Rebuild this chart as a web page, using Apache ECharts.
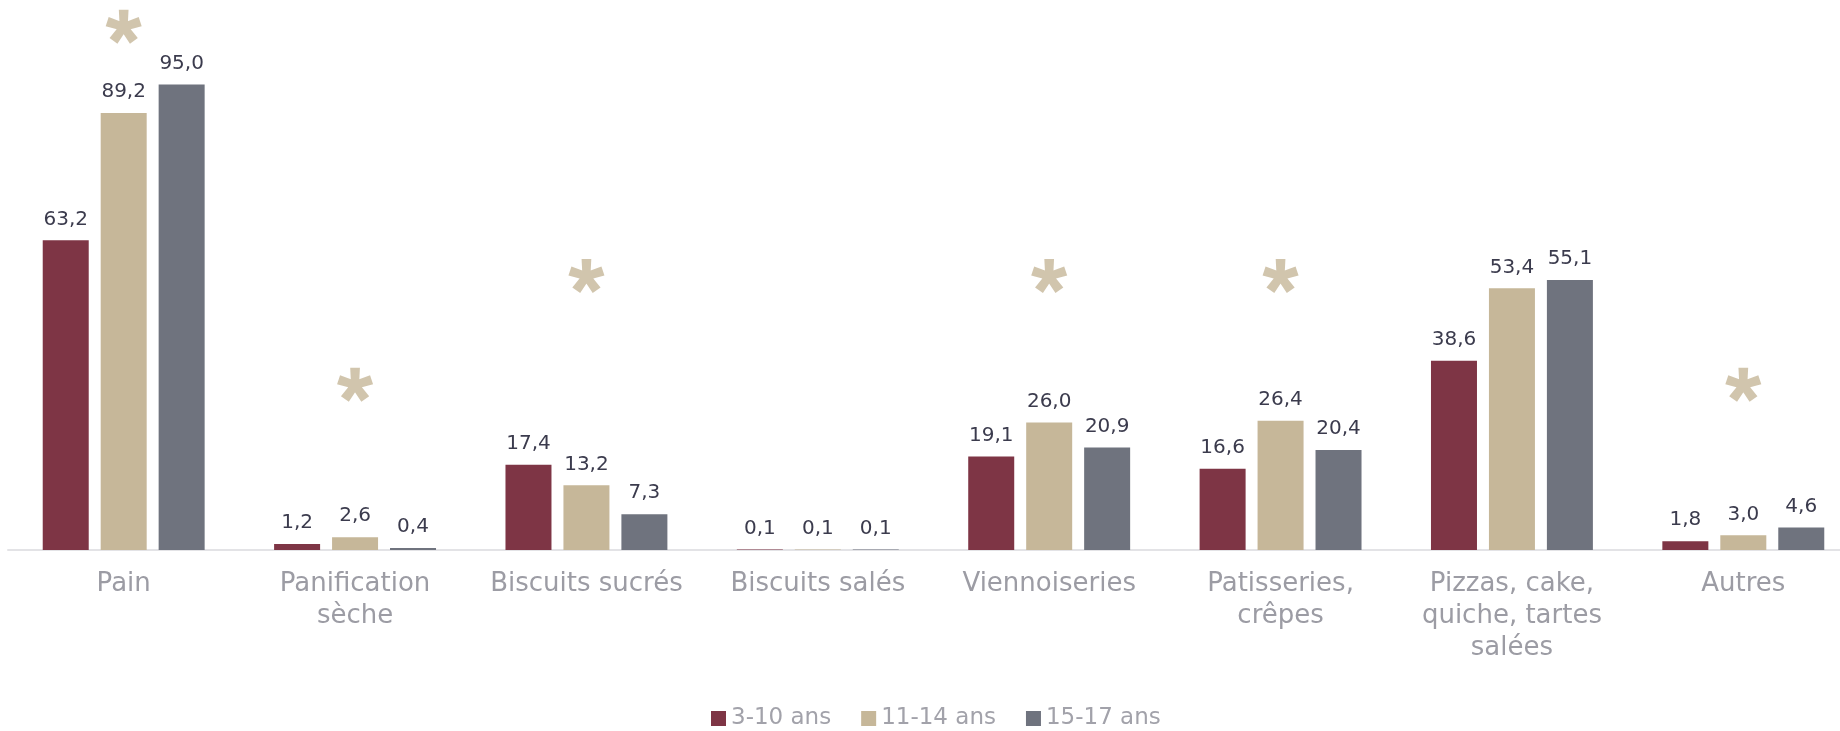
<!DOCTYPE html>
<html>
<head>
<meta charset="utf-8">
<script src="https://cdn.jsdelivr.net/npm/echarts@6/dist/echarts.min.js"></script>
<style>
  html, body { margin: 0; padding: 0; background: #ffffff; }
  #chart { width: 1840px; height: 731px; }
</style>
</head>
<body>
<div id="chart"></div>
<script>
// Product categories (line breaks as they are printed under the axis)
const categories = [
  'Pain',
  'Panification\nsèche',
  'Biscuits sucrés',
  'Biscuits salés',
  'Viennoiseries',
  'Patisseries,\ncrêpes',
  'Pizzas, cake,\nquiche, tartes\nsalées',
  'Autres'
];

// Age groups
const seriesNames = ['3-10 ans', '11-14 ans', '15-17 ans'];

// Values per age group, in the same order as categories
const values3to10  = [63.2, 1.2, 17.4, 0.1, 19.1, 16.6, 38.6, 1.8];
const values11to14 = [89.2, 2.6, 13.2, 0.1, 26.0, 26.4, 53.4, 3.0];
const values15to17 = [95.0, 0.4, 7.3, 0.1, 20.9, 20.4, 55.1, 4.6];

// Height (in axis units) of the significance asterisk per category; null = none
const starLevels = [106.8, 33.7, 55.9, null, 55.9, 55.9, null, 33.7];

const colors = ['#7e3545', '#c6b799', '#6f737e'];

// Five-armed asterisk outline built from flared arms around the centre
function asteriskPath() {
  const arms = 5, len = 1, w0 = 0.46, w1 = 0.56;
  let d = '';
  for (let k = 0; k < arms; k++) {
    const a = (-90 + 72 * k) * Math.PI / 180;
    const dx = Math.cos(a), dy = Math.sin(a);
    const px = -dy, py = dx;
    const pts = [
      [px * w0 / 2, py * w0 / 2],
      [dx * len + px * w1 / 2, dy * len + py * w1 / 2],
      [dx * len - px * w1 / 2, dy * len - py * w1 / 2],
      [-px * w0 / 2, -py * w0 / 2]
    ];
    d += 'M' + pts.map(p => (p[0] * 100).toFixed(2) + ' ' + (p[1] * 100).toFixed(2)).join(' L') + ' Z ';
  }
  return 'path://' + d;
}

const fmt = v => v.toFixed(1).replace('.', ',');

const valueLabel = {
  show: true,
  position: 'top',
  distance: 11,
  fontFamily: 'DejaVu Sans',
  fontSize: 20,
  color: '#3b3b4d',
  formatter: p => fmt(p.value)
};

function barSeries(name, data, color) {
  return {
    name: name,
    type: 'bar',
    data: data,
    barWidth: 46,
    barGap: '26%',
    itemStyle: { color: color },
    label: valueLabel
  };
}

const chart = echarts.init(document.getElementById('chart'), null, { renderer: 'canvas' });

chart.setOption({
  animation: false,
  backgroundColor: '#ffffff',
  // the plot area runs a little past the right edge of the canvas
  grid: {
    left: 8, right: -19, top: 11, bottom: 181,
    containLabel: false,
    outerBoundsMode: 'none'
  },
  legend: {
    data: seriesNames,
    bottom: -4,
    left: 706,
    icon: 'rect',
    itemWidth: 15,
    itemHeight: 15,
    itemGap: 30,
    textStyle: { fontFamily: 'DejaVu Sans', fontSize: 23, color: '#a2a2aa' }
  },
  xAxis: {
    type: 'category',
    data: categories,
    axisLine: { show: true, lineStyle: { color: '#e3e3e6', width: 2 } },
    axisTick: { show: false },
    axisLabel: {
      interval: 0,
      margin: 18,
      fontFamily: 'DejaVu Sans',
      fontSize: 26,
      lineHeight: 32,
      color: '#9c9ca4',
      align: 'center'
    }
  },
  yAxis: {
    type: 'value',
    min: 0,
    max: 110,
    show: false,
    splitLine: { show: false }
  },
  series: [
    barSeries(seriesNames[0], values3to10, colors[0]),
    barSeries(seriesNames[1], values11to14, colors[1]),
    barSeries(seriesNames[2], values15to17, colors[2]),
    {
      name: 'significance',
      type: 'scatter',
      data: starLevels.map((v, i) => v === null ? null : [i, v]).filter(d => d !== null),
      symbol: asteriskPath(),
      symbolSize: [36, 34],
      symbolKeepAspect: false,
      itemStyle: { color: '#c6b799' },
      clip: false,
      silent: true,
      z: 5
    }
  ]
});
</script>
</body>
</html>
